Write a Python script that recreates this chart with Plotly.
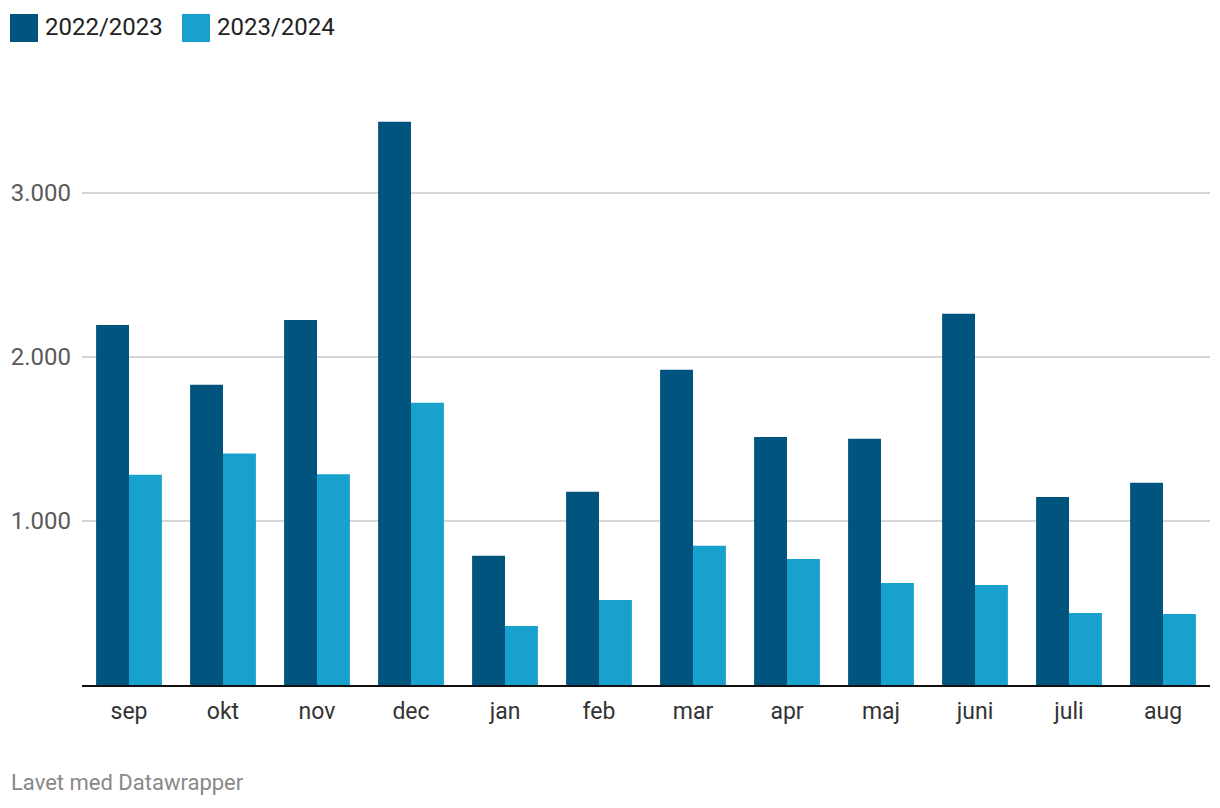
import plotly.graph_objects as go

months = ["sep", "okt", "nov", "dec", "jan", "feb", "mar", "apr", "maj", "juni", "juli", "aug"]
series_names = ["2022/2023", "2023/2024"]
values_2022_2023 = [2194, 1829, 2225, 3433, 787, 1177, 1921, 1512, 1500, 2262, 1146, 1232]
values_2023_2024 = [1281, 1411, 1284, 1720, 360, 518, 848, 768, 622, 610, 439, 433]
colors = ["#01547d", "#18a1cd"]
y_ticks = [1000, 2000, 3000]

OFF = 8  # page body margin
W, H = 1220, 808
# desired plot area in screen pixels
SL, SR, ST, SB = 82, 1210, 100, 685
L = SL - OFF
T = ST - OFF
R = W - (SR - OFF)
B = H - (SB - OFF)
pw, ph = SR - SL, SB - ST

def px_x(x):
    return (x - SL) / pw

def px_y(y):
    return (SB - y) / ph

fig = go.Figure()
for name, vals, col in zip(series_names, [values_2022_2023, values_2023_2024], colors):
    fig.add_trace(go.Bar(x=months, y=vals, name=name, marker=dict(color=col, line=dict(width=0)),
                         showlegend=False))

# manual legend
shapes = []
annotations = []
legend_x = [10, 182]
for lx, name, col in zip(legend_x, series_names, colors):
    shapes.append(dict(type="rect", xref="paper", yref="paper",
                       x0=px_x(lx), x1=px_x(lx + 28), y0=px_y(42), y1=px_y(14),
                       fillcolor=col, line=dict(width=0), layer="above"))
    annotations.append(dict(text=name, xref="paper", yref="paper", x=px_x(lx + 33), y=px_y(27),
                            xanchor="left", yanchor="middle", showarrow=False,
                            font=dict(family="Roboto", size=24, color="#222222")))

annotations.append(dict(text="Lavet med Datawrapper", xref="paper", yref="paper",
                        x=px_x(9), y=px_y(782), xanchor="left", yanchor="middle", showarrow=False,
                        font=dict(family="Roboto", size=22, color="#888888")))

fig.update_layout(
    width=W, height=H,
    margin=dict(l=L, r=R, t=T, b=B, autoexpand=False),
    paper_bgcolor="white", plot_bgcolor="white",
    barmode="group", bargap=0.3, bargroupgap=0,
    separators=",.",
    font=dict(family="Roboto", color="#333333"),
    shapes=shapes, annotations=annotations,
    xaxis=dict(showgrid=False, showline=True, linecolor="#111111", linewidth=2,
               ticks="", tickfont=dict(size=23, color="#333333"), ticklabelstandoff=4,
               fixedrange=True),
    yaxis=dict(range=[0, 3565], tickvals=y_ticks, tickformat=",d", showgrid=True,
               gridcolor="#d6d6d6", gridwidth=1.5, zeroline=False, showline=False,
               tickfont=dict(size=24, color="#5a5a5a"), ticklabelstandoff=10),
)

fig.write_html("out.html")
